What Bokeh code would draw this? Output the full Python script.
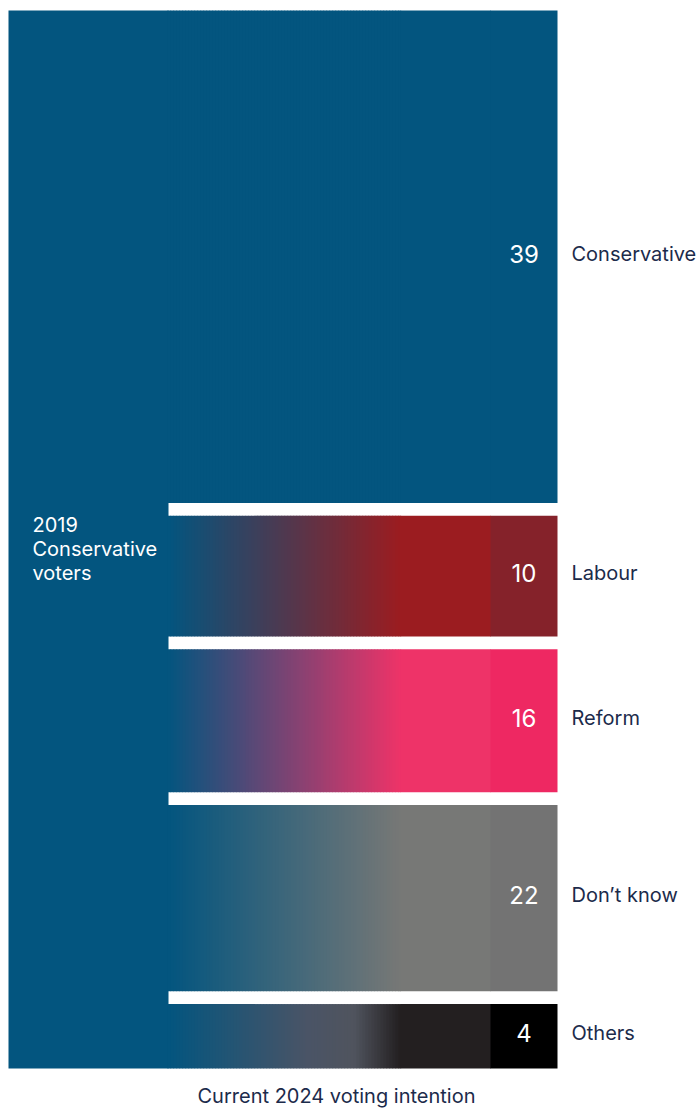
from bokeh.plotting import figure
from bokeh.models import Range1d, ColumnDataSource
from bokeh.core.properties import value
from bokeh.embed import file_html
from bokeh.resources import INLINE

# ---- data ----
parties = ["Conservative", "Labour", "Reform", "Don\u2019t know", "Others"]
pct_labels = [39, 10, 16, 22, 4]
flow_size = [48.9, 12.0, 14.2, 18.5, 6.4]          # relative band heights as drawn
source_label = "2019\nConservative\nvoters"
axis_title = "Current 2024 voting intention"

# ---- styles ----
BLUE = "#03557f"
flow_end = ["#03557f", "#9b1c20", "#ee3368", "#777876", "#231f20"]
flow_mid = [None, None, None, None, "#4a5466"]
bar_col = ["#03557f", "#85222a", "#ee2862", "#737373", "#000000"]
TEXT = "#1c2b4b"
FONT = "Inter"

W, H = 699, 1108
top, bottom, gap = 10, 1068, 12.75
x_left0, x_left1 = 8, 168
x_grad_end, x_bar0, x_bar1 = 400, 490, 557

p = figure(width=W, height=H, x_range=Range1d(0, W), y_range=Range1d(H, 0),
           output_backend="svg", toolbar_location=None, min_border=0)
p.axis.visible = False
p.grid.visible = False
p.outline_line_color = None
p.background_fill_color = "white"
p.border_fill_color = "white"

total = sum(flow_size)
scale = (bottom - top - gap * (len(flow_size) - 1)) / total

def hex2rgb(h):
    h = h.lstrip("#")
    return tuple(int(h[i:i + 2], 16) for i in (0, 2, 4))

def mix(a, b, t):
    ra, rb = hex2rgb(a), hex2rgb(b)
    return "#%02x%02x%02x" % tuple(round(ra[i] + (rb[i] - ra[i]) * t) for i in range(3))

def grad(i, t):
    if flow_mid[i] is None:
        return mix(BLUE, flow_end[i], t)
    if t < 0.6:
        return mix(BLUE, flow_mid[i], t / 0.6)
    if t < 0.8:
        return mix(flow_mid[i], "#50545e", (t - 0.6) / 0.2)
    return mix("#50545e", flow_end[i], (t - 0.8) / 0.2)

# left source column
p.quad(left=[x_left0], right=[x_left1], top=[top], bottom=[bottom],
       fill_color=BLUE, line_color=None)

strips = dict(l=[], r=[], t=[], b=[], c=[])
bars = dict(l=[], r=[], t=[], b=[], c=[])
band_top, band_bot = [], []
y = top
for i, s in enumerate(flow_size):
    y0, y1 = y, y + s * scale
    band_top.append(y0)
    band_bot.append(y1)
    # gradient flow from source blue to party colour
    step = 3
    x = x_left1 - 1
    while x < x_grad_end:
        xr = min(x + step, x_grad_end)
        t = ((x + xr) / 2 - x_left1) / (x_grad_end - x_left1)
        t = max(0.0, min(1.0, t))
        strips["l"].append(x); strips["r"].append(xr + 0.6)
        strips["t"].append(y0); strips["b"].append(y1)
        strips["c"].append(grad(i, t))
        x = xr
    strips["l"].append(x_grad_end); strips["r"].append(x_bar0 + 0.5)
    strips["t"].append(y0); strips["b"].append(y1)
    strips["c"].append(flow_end[i])
    bars["l"].append(x_bar0); bars["r"].append(x_bar1)
    bars["t"].append(y0); bars["b"].append(y1)
    bars["c"].append(bar_col[i])
    y = y1 + gap

p.quad(left="l", right="r", top="t", bottom="b", fill_color="c", line_color=None,
       source=ColumnDataSource(strips))
p.quad(left="l", right="r", top="t", bottom="b", fill_color="c", line_color=None,
       source=ColumnDataSource(bars))

mids = [(a + b) / 2 - 3 for a, b in zip(band_top, band_bot)]
p.text(x=[(x_bar0 + x_bar1) / 2] * len(parties), y=mids, text=[str(v) for v in pct_labels],
       text_font=value(FONT), text_font_size="24px", text_color="white",
       text_align="center", text_baseline="middle")
p.text(x=[571] * len(parties), y=mids, text=parties,
       text_font=value(FONT), text_font_size="20px", text_color=TEXT,
       text_align="left", text_baseline="middle")
p.text(x=[32], y=[band_top[1] - 3], text=[source_label],
       text_font=value(FONT), text_font_size="20px", text_color="white",
       text_align="left", text_baseline="top", text_line_height=1.0)
p.text(x=[336], y=[1095], text=[axis_title],
       text_font=value(FONT), text_font_size="20px", text_color=TEXT,
       text_align="center", text_baseline="middle")

open("out.html", "w").write(file_html(p, INLINE))
